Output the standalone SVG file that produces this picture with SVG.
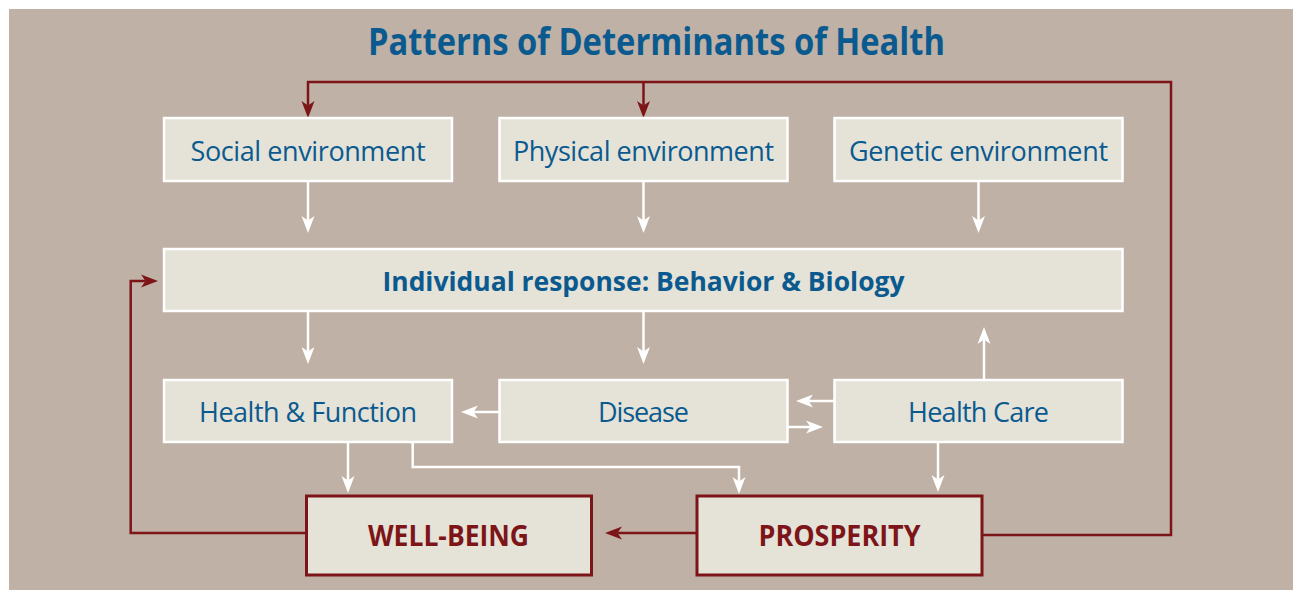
<svg xmlns="http://www.w3.org/2000/svg" width="1293" height="590" viewBox="0 0 1293 590">
  <defs>
    <style>
      .bg { fill: #BFB1A5; }
      .box { fill: #E5E2D7; stroke: #FFFFFF; stroke-width: 2.5; }
      .key { fill: #E5E2D7; stroke: #7D1518; stroke-width: 3; }
      .lbl { font-family: "Open Sans", "Liberation Sans", sans-serif; font-size: 27px; fill: #0B5A8F; text-anchor: middle; }
      .bold { font-weight: 700; }
      .keylbl { font-family: "Open Sans", "Liberation Sans", sans-serif; font-size: 28px; font-weight: 700; fill: #7D1518; text-anchor: middle; }
      .title { font-family: "Open Sans", "Liberation Sans", sans-serif; font-size: 38px; font-weight: 700; fill: #0B5A8F; text-anchor: middle; }
      .w { fill: none; stroke: #FFFFFF; stroke-width: 2.5; marker-end: url(#aw); }
      .r { fill: none; stroke: #7D1518; stroke-width: 2.5; marker-end: url(#ar); }
    </style>
    <marker id="aw" viewBox="-1 -8 20 16" markerUnits="userSpaceOnUse" markerWidth="20" markerHeight="16" refX="4.5" refY="0" orient="auto">
      <path d="M0,-6.5 L17,0 L0,6.5 L4.5,0 Z" fill="#FFFFFF"/>
    </marker>
    <marker id="ar" viewBox="-1 -8 20 16" markerUnits="userSpaceOnUse" markerWidth="20" markerHeight="16" refX="4.5" refY="0" orient="auto">
      <path d="M0,-6.5 L17,0 L0,6.5 L4.5,0 Z" fill="#7D1518"/>
    </marker>
  </defs>

  <rect x="0" y="0" width="1293" height="590" fill="#FFFFFF"/>
  <rect class="bg" x="9" y="9" width="1284" height="581"/>

  <text class="title" x="656.5" y="55" textLength="577" lengthAdjust="spacingAndGlyphs">Patterns of Determinants of Health</text>

  <g id="connectors">
    <path class="w" d="M308,182 V220.5"/>
    <path class="w" d="M643.5,182 V220.5"/>
    <path class="w" d="M978.5,182 V220.5"/>
    <path class="w" d="M308,311 V351.5"/>
    <path class="w" d="M643.5,311 V351.5"/>
    <path class="w" d="M984,380 V339.5"/>
    <path class="w" d="M499,412 H473.5"/>
    <path class="w" d="M835,401 H808.5"/>
    <path class="w" d="M788,427 H810.5"/>
    <path class="w" d="M348,442 V480.5"/>
    <path class="w" d="M412.7,442 V467 H739 V481.5"/>
    <path class="w" d="M938,442 V479.5"/>
    <path class="r" d="M983,535 H1171 V82 H308 V105.5"/>
    <path class="r" d="M643.5,82 V105.5"/>
    <path class="r" d="M697,533 H617.5"/>
    <path class="r" d="M306,533 H130.7 V281 H145.5"/>
  </g>

  <g id="social">
    <rect class="box" x="164" y="118" width="288" height="63"/>
    <text class="lbl" x="308" y="160.5" textLength="235">Social environment</text>
  </g>
  <g id="physical">
    <rect class="box" x="499.5" y="118" width="288" height="63"/>
    <text class="lbl" x="643.5" y="160.5" textLength="261">Physical environment</text>
  </g>
  <g id="genetic">
    <rect class="box" x="834.5" y="118" width="288" height="63"/>
    <text class="lbl" x="978.5" y="160.5" textLength="259">Genetic environment</text>
  </g>
  <g id="individual">
    <rect class="box" x="164" y="249" width="958.5" height="62"/>
    <text class="lbl bold" x="643.5" y="290.5" textLength="522" lengthAdjust="spacingAndGlyphs">Individual response: Behavior &amp; Biology</text>
  </g>
  <g id="health-function">
    <rect class="box" x="164" y="380" width="288" height="62"/>
    <text class="lbl" x="308" y="421.5" textLength="218">Health &amp; Function</text>
  </g>
  <g id="disease">
    <rect class="box" x="499.5" y="380" width="288" height="62"/>
    <text class="lbl" x="643.5" y="421.5" textLength="91">Disease</text>
  </g>
  <g id="health-care">
    <rect class="box" x="834.5" y="380" width="288" height="62"/>
    <text class="lbl" x="978.5" y="421.5" textLength="141">Health Care</text>
  </g>
  <g id="well-being">
    <rect class="key" x="306.5" y="496" width="285" height="79"/>
    <text class="keylbl" x="448.5" y="545.5" textLength="161" lengthAdjust="spacingAndGlyphs">WELL-BEING</text>
  </g>
  <g id="prosperity">
    <rect class="key" x="697" y="496" width="285" height="79"/>
    <text class="keylbl" x="839.5" y="545.5" textLength="162" lengthAdjust="spacingAndGlyphs">PROSPERITY</text>
  </g>
</svg>
